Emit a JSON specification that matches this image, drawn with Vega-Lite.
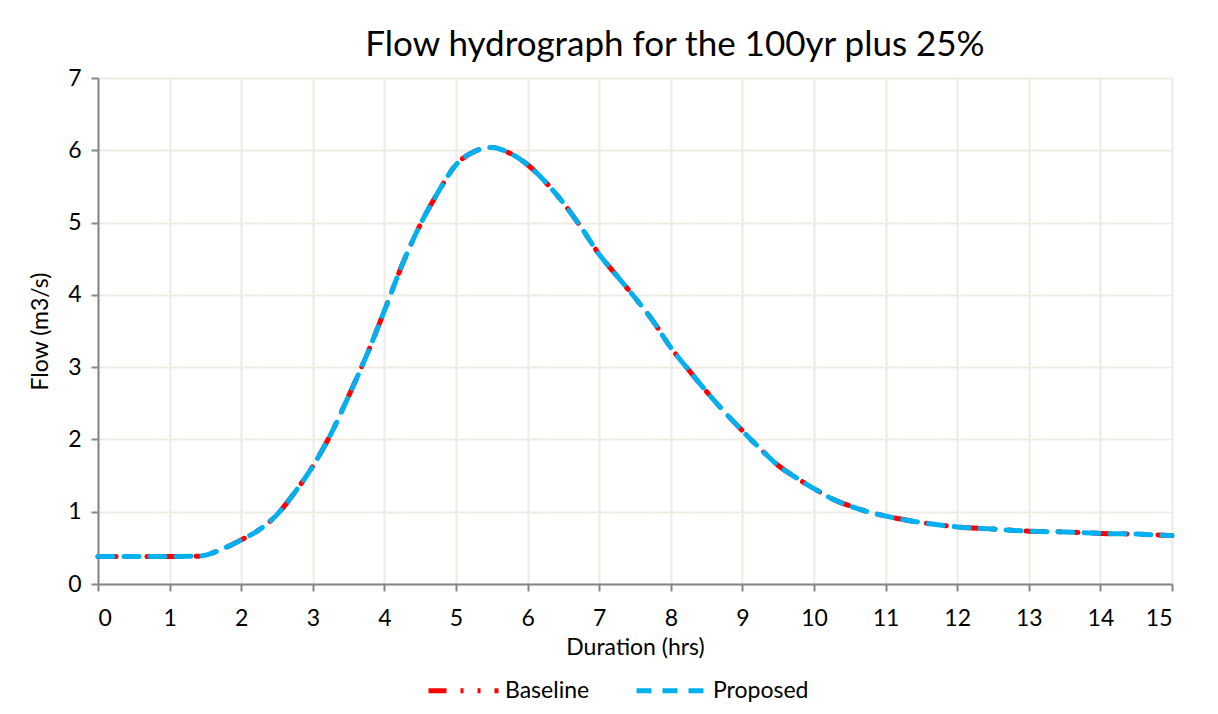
{
  "$schema": "https://vega.github.io/schema/vega-lite/v6.json",
  "width": 1074,
  "height": 506,
  "autosize": "none",
  "padding": {"left": 98, "top": 78, "right": 46, "bottom": 130},
  "background": "white",
  "title": {
    "text": "Flow hydrograph for the 100yr plus 25%",
    "font": "Lato",
    "fontSize": 35,
    "fontWeight": "normal",
    "color": "#000000",
    "anchor": "middle",
    "dx": 40,
    "offset": 4
  },
  "data": {
    "values": [
      {"t": 0, "Baseline": 0.38, "Proposed": 0.38},
      {"t": 0.5, "Baseline": 0.38, "Proposed": 0.38},
      {"t": 1.0, "Baseline": 0.38, "Proposed": 0.38},
      {"t": 1.4, "Baseline": 0.385, "Proposed": 0.385},
      {"t": 1.75, "Baseline": 0.49, "Proposed": 0.49},
      {"t": 2.0, "Baseline": 0.61, "Proposed": 0.61},
      {"t": 2.25, "Baseline": 0.75, "Proposed": 0.75},
      {"t": 2.5, "Baseline": 0.96, "Proposed": 0.96},
      {"t": 2.75, "Baseline": 1.27, "Proposed": 1.27},
      {"t": 3.0, "Baseline": 1.63, "Proposed": 1.63},
      {"t": 3.25, "Baseline": 2.07, "Proposed": 2.07},
      {"t": 3.5, "Baseline": 2.6, "Proposed": 2.6},
      {"t": 3.75, "Baseline": 3.16, "Proposed": 3.16},
      {"t": 4.0, "Baseline": 3.78, "Proposed": 3.78},
      {"t": 4.25, "Baseline": 4.42, "Proposed": 4.42},
      {"t": 4.5, "Baseline": 4.97, "Proposed": 4.97},
      {"t": 4.75, "Baseline": 5.42, "Proposed": 5.42},
      {"t": 5.0, "Baseline": 5.8, "Proposed": 5.8},
      {"t": 5.25, "Baseline": 5.98, "Proposed": 5.98},
      {"t": 5.5, "Baseline": 6.04, "Proposed": 6.04},
      {"t": 5.75, "Baseline": 5.96, "Proposed": 5.96},
      {"t": 6.0, "Baseline": 5.8, "Proposed": 5.8},
      {"t": 6.25, "Baseline": 5.56, "Proposed": 5.56},
      {"t": 6.5, "Baseline": 5.27, "Proposed": 5.27},
      {"t": 6.75, "Baseline": 4.93, "Proposed": 4.93},
      {"t": 7.0, "Baseline": 4.56, "Proposed": 4.56},
      {"t": 7.25, "Baseline": 4.26, "Proposed": 4.26},
      {"t": 7.5, "Baseline": 3.96, "Proposed": 3.96},
      {"t": 7.75, "Baseline": 3.64, "Proposed": 3.64},
      {"t": 8.0, "Baseline": 3.27, "Proposed": 3.27},
      {"t": 8.25, "Baseline": 2.96, "Proposed": 2.96},
      {"t": 8.5, "Baseline": 2.66, "Proposed": 2.66},
      {"t": 8.75, "Baseline": 2.38, "Proposed": 2.38},
      {"t": 9.0, "Baseline": 2.12, "Proposed": 2.12},
      {"t": 9.25, "Baseline": 1.87, "Proposed": 1.87},
      {"t": 9.5, "Baseline": 1.64, "Proposed": 1.64},
      {"t": 9.75, "Baseline": 1.47, "Proposed": 1.47},
      {"t": 10.0, "Baseline": 1.32, "Proposed": 1.32},
      {"t": 10.25, "Baseline": 1.18, "Proposed": 1.18},
      {"t": 10.5, "Baseline": 1.08, "Proposed": 1.08},
      {"t": 10.75, "Baseline": 1.0, "Proposed": 1.0},
      {"t": 11.0, "Baseline": 0.94, "Proposed": 0.94},
      {"t": 11.5, "Baseline": 0.85, "Proposed": 0.85},
      {"t": 12.0, "Baseline": 0.79, "Proposed": 0.79},
      {"t": 12.5, "Baseline": 0.76, "Proposed": 0.76},
      {"t": 13.0, "Baseline": 0.73, "Proposed": 0.73},
      {"t": 13.5, "Baseline": 0.72, "Proposed": 0.72},
      {"t": 14.0, "Baseline": 0.7, "Proposed": 0.7},
      {"t": 14.5, "Baseline": 0.69, "Proposed": 0.69},
      {"t": 15.0, "Baseline": 0.67, "Proposed": 0.67}
    ]
  },
  "transform": [
    {"fold": ["Baseline", "Proposed"], "as": ["series", "flow"]}
  ],
  "mark": {"type": "line", "interpolate": "monotone", "strokeWidth": 5, "strokeCap": "round"},
  "encoding": {
    "x": {
      "field": "t",
      "type": "quantitative",
      "scale": {"domain": [0, 15], "nice": false},
      "axis": {
        "title": "Duration (hrs)",
        "values": [0, 1, 2, 3, 4, 5, 6, 7, 8, 9, 10, 11, 12, 13, 14, 15],
        "format": "d",
        "titlePadding": 6
      }
    },
    "y": {
      "field": "flow",
      "type": "quantitative",
      "scale": {"domain": [0, 7], "nice": false},
      "axis": {
        "title": "Flow (m3/s)",
        "values": [0, 1, 2, 3, 4, 5, 6, 7],
        "format": "d",
        "titlePadding": 15
      }
    },
    "color": {
      "field": "series",
      "type": "nominal",
      "sort": ["Baseline", "Proposed"],
      "scale": {"domain": ["Baseline", "Proposed"], "range": ["#FF0000", "#00B0F0"]},
      "legend": {
        "title": null,
        "orient": "none",
        "direction": "horizontal",
        "legendX": 328,
        "legendY": 575,
        "symbolType": "stroke",
        "symbolSize": 4900,
        "symbolStrokeWidth": 5,
        "columnPadding": 36,
        "labelOffset": 4
      }
    },
    "strokeDash": {
      "field": "series",
      "type": "nominal",
      "sort": ["Baseline", "Proposed"],
      "scale": {"domain": ["Baseline", "Proposed"], "range": [[18, 14, 3, 14, 3, 14], [15, 11]]},
      "legend": {
        "title": null,
        "orient": "none",
        "direction": "horizontal",
        "legendX": 328,
        "legendY": 575,
        "symbolType": "stroke",
        "symbolSize": 4900,
        "symbolStrokeWidth": 5,
        "columnPadding": 36,
        "labelOffset": 4
      }
    }
  },
  "config": {
    "font": "Lato",
    "view": {"stroke": null},
    "axis": {
      "labelFont": "Lato",
      "titleFont": "Lato",
      "labelFontSize": 23,
      "titleFontSize": 23,
      "titleFontWeight": "normal",
      "labelColor": "#000000",
      "titleColor": "#000000",
      "domainColor": "#868686",
      "domainWidth": 2,
      "tickColor": "#868686",
      "tickWidth": 2,
      "tickSize": 7,
      "gridColor": "#EEECE1",
      "gridWidth": 2,
      "labelPadding": 10
    },
    "axisX": {"labelPadding": 16},
    "legend": {
      "labelFont": "Lato",
      "labelFontSize": 23,
      "labelColor": "#000000"
    }
  }
}
